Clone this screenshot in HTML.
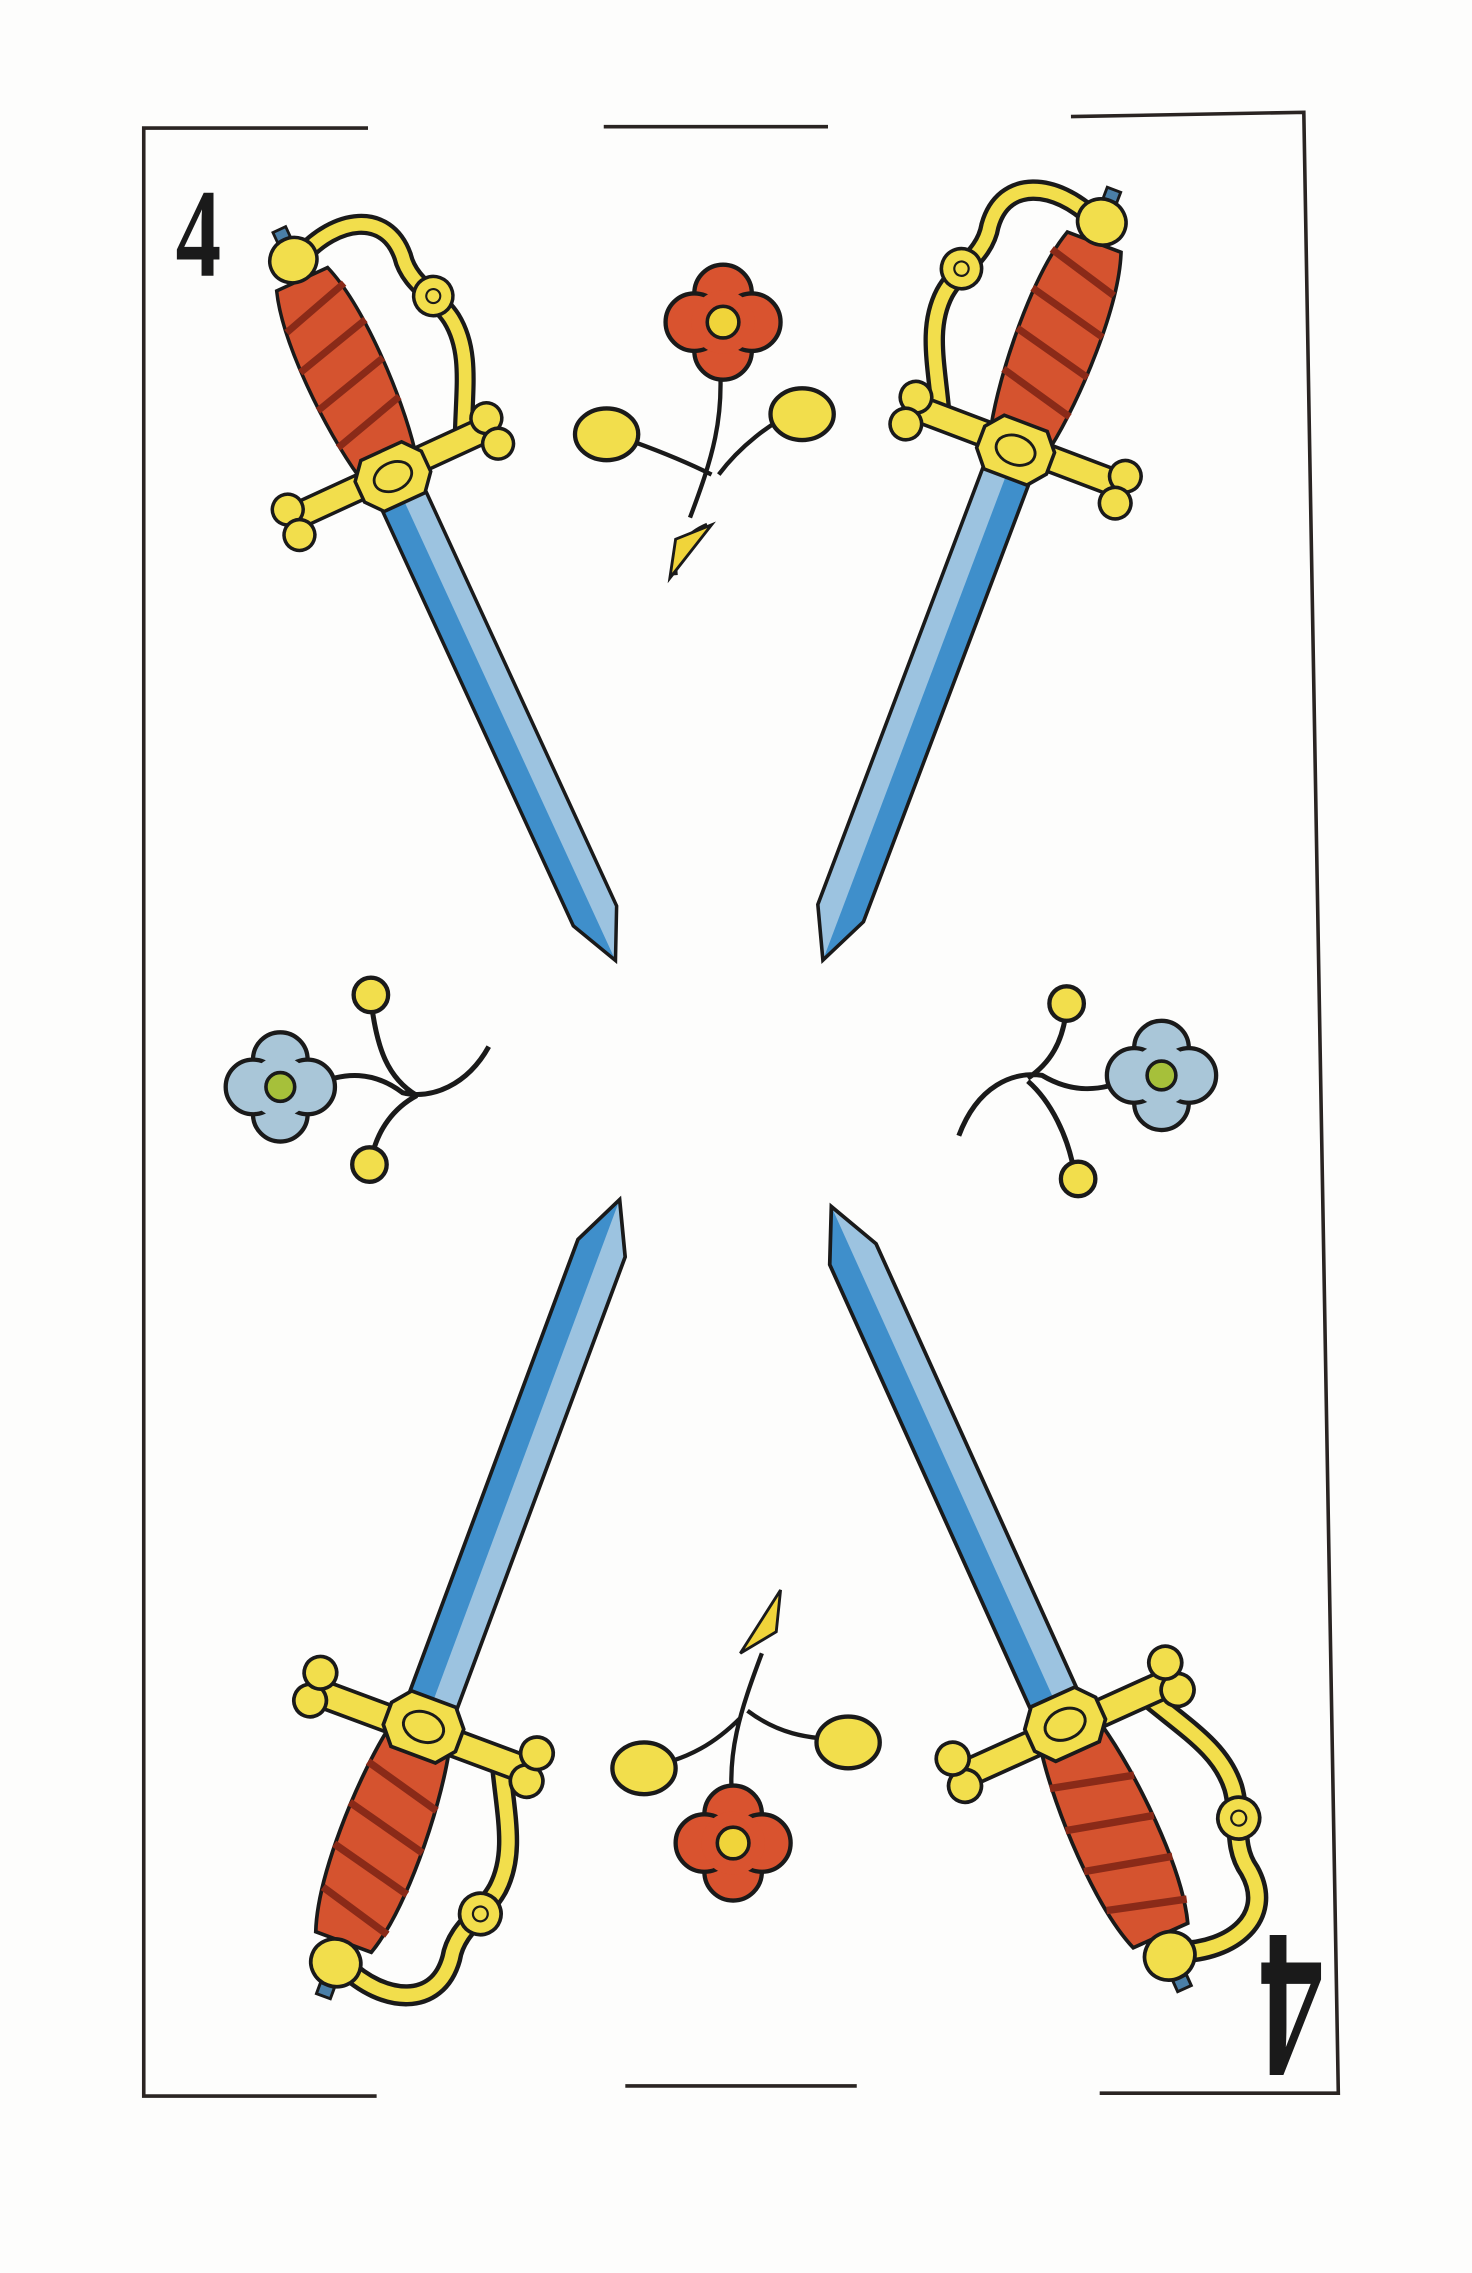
<!DOCTYPE html>
<html><head><meta charset="utf-8"><style>
html,body{margin:0;padding:0;background:#fdfdfc;}
svg{display:block;}
</style></head><body>
<svg width="1472" height="2273" viewBox="0 0 1024 1581" xmlns="http://www.w3.org/2000/svg">
<defs>
<g id="sword">
  <polygon points="-17,195 17,195 17,525 0,560 -17,525" fill="#9cc3e0"/>
  <polygon points="-17,195 0,195 0,560 -17,525" fill="#3f8fcb"/>
  <polygon points="-17,195 17,195 17,525 0,560 -17,525" fill="none" stroke="#1a1a1a" stroke-width="2.5"/>
  <path d="M6,10 C40,-5 75,5 72,40 C68,60 82,75 85,95 C88,120 75,140 60,170" fill="none" stroke="#1a1a1a" stroke-width="15" stroke-linecap="round"/>
  <path d="M6,10 C40,-5 75,5 72,40 C68,60 82,75 85,95 C88,120 75,140 60,170" fill="none" stroke="#f2de4c" stroke-width="9" stroke-linecap="round"/>
  <circle cx="80" cy="75" r="14" fill="#f2de4c" stroke="#1a1a1a" stroke-width="2.5"/>
  <circle cx="80" cy="75" r="5" fill="none" stroke="#1a1a1a" stroke-width="1.5"/>
  <path d="M-20,25 C-32,60 -30,130 -22,170 L22,170 C30,130 32,60 20,25 Z" fill="#d5532f" stroke="#1a1a1a" stroke-width="2.5"/>
  <path d="M-26,55 L26,40 M-29,85 L29,70 M-29,115 L29,100 M-27,145 L28,130" stroke="#8a2a18" stroke-width="5"/>
  <rect x="-5" y="-14" width="10" height="8" fill="#4a7fa8" stroke="#1a1a1a" stroke-width="2"/>
  <ellipse cx="0" cy="10" rx="17" ry="16" fill="#f2de4c" stroke="#1a1a1a" stroke-width="2.5"/>
  <rect x="-75" y="168" width="150" height="18" rx="6" fill="#f2de4c" stroke="#1a1a1a" stroke-width="2.5"/>
  <circle cx="-78" cy="170" r="11" fill="#f2de4c" stroke="#1a1a1a" stroke-width="2.5"/>
  <circle cx="-78" cy="190" r="11" fill="#f2de4c" stroke="#1a1a1a" stroke-width="2.5"/>
  <circle cx="78" cy="170" r="11" fill="#f2de4c" stroke="#1a1a1a" stroke-width="2.5"/>
  <circle cx="78" cy="190" r="11" fill="#f2de4c" stroke="#1a1a1a" stroke-width="2.5"/>
  <polygon points="-16,160 16,160 26,172 26,188 16,200 -16,200 -26,188 -26,172" fill="#f2de4c" stroke="#1a1a1a" stroke-width="2.5"/>
  <ellipse cx="0" cy="180" rx="14" ry="10" fill="none" stroke="#1a1a1a" stroke-width="2"/>
</g>
<g id="sword-m"><use href="#sword" transform="scale(-1,1)"/></g>
<g id="redflower">
  <circle cx="0" cy="-20" r="20" fill="#d9532f" stroke="#1a1a1a" stroke-width="3"/>
  <circle cx="0" cy="20" r="20" fill="#d9532f" stroke="#1a1a1a" stroke-width="3"/>
  <circle cx="-20" cy="0" r="20" fill="#d9532f" stroke="#1a1a1a" stroke-width="3"/>
  <circle cx="20" cy="0" r="20" fill="#d9532f" stroke="#1a1a1a" stroke-width="3"/>
  <circle cx="0" cy="0" r="22" fill="#d9532f"/>
  <circle cx="0" cy="0" r="11" fill="#f0d43a" stroke="#1a1a1a" stroke-width="2.5"/>
</g>
<g id="blueflower">
  <circle cx="0" cy="-19" r="19" fill="#a9c6d8" stroke="#1a1a1a" stroke-width="3"/>
  <circle cx="0" cy="19" r="19" fill="#a9c6d8" stroke="#1a1a1a" stroke-width="3"/>
  <circle cx="-19" cy="0" r="19" fill="#a9c6d8" stroke="#1a1a1a" stroke-width="3"/>
  <circle cx="19" cy="0" r="19" fill="#a9c6d8" stroke="#1a1a1a" stroke-width="3"/>
  <circle cx="0" cy="0" r="21" fill="#a9c6d8"/>
  <circle cx="0" cy="0" r="10" fill="#a6c03a" stroke="#1a1a1a" stroke-width="2.5"/>
</g>
</defs>
<rect width="1024" height="1581" fill="#fdfdfc"/>
<g stroke="#2a2422" stroke-width="2.5" fill="none">
  <path d="M256,89 L100,89 L100,1458 L262,1458"/>
  <path d="M420,88 L576,88"/>
  <path d="M745,81 L907,78 L931,1456 L765,1456"/>
  <path d="M435,1451 L596,1451"/>
</g>
<text x="0" y="0" transform="translate(138,192) scale(0.72,1)" font-family="Liberation Serif, serif" font-size="88" font-weight="bold" text-anchor="middle" fill="#1a1a1a">4</text>
<text x="0" y="0" transform="translate(898,1346) rotate(180) scale(0.6,1)" font-family="Liberation Serif, serif" font-size="148" font-weight="bold" text-anchor="middle" fill="#1a1a1a">4</text>

<g>
  <path d="M500,245 C505,290 495,320 480,360 M470,400 C468,380 480,370 492,365 M420,300 C450,310 475,320 495,330 M555,285 C535,295 515,310 500,330" stroke="#1a1a1a" stroke-width="3" fill="none"/>
  <path d="M466,402 L470,375 L495,365 Z" fill="#f0d43a" stroke="#1a1a1a" stroke-width="2"/>
  <ellipse cx="422" cy="302" rx="22" ry="18" fill="#f2de4c" stroke="#1a1a1a" stroke-width="3"/>
  <ellipse cx="558" cy="288" rx="22" ry="18" fill="#f2de4c" stroke="#1a1a1a" stroke-width="3"/>
  <use href="#redflower" x="503" y="224"/>
</g>
<g>
  <path d="M510,1258 C505,1220 515,1190 530,1150 M445,1230 C480,1225 500,1210 515,1195 M590,1210 C560,1210 540,1205 520,1190" stroke="#1a1a1a" stroke-width="3" fill="none"/>
  <path d="M543,1106 L540,1135 L515,1150 Z" fill="#f0d43a" stroke="#1a1a1a" stroke-width="2"/>
  <ellipse cx="448" cy="1230" rx="22" ry="18" fill="#f2de4c" stroke="#1a1a1a" stroke-width="3"/>
  <ellipse cx="590" cy="1212" rx="22" ry="18" fill="#f2de4c" stroke="#1a1a1a" stroke-width="3"/>
  <use href="#redflower" x="510" y="1282"/>
</g>
<g>
  <path d="M218,755 C240,745 260,745 280,760 C300,765 325,755 340,728 M258,695 C262,730 270,750 290,762 M258,808 C262,785 275,770 290,762" stroke="#1a1a1a" stroke-width="3.5" fill="none"/>
  <use href="#blueflower" x="195" y="756"/>
  <circle cx="258" cy="692" r="12" fill="#f2de4c" stroke="#1a1a1a" stroke-width="3"/>
  <circle cx="257" cy="810" r="12" fill="#f2de4c" stroke="#1a1a1a" stroke-width="3"/>
</g>
<g>
  <path d="M786,750 C765,760 745,760 725,748 C705,745 680,755 667,790 M742,700 C740,725 730,740 715,750 M748,820 C744,790 730,765 715,752" stroke="#1a1a1a" stroke-width="3.5" fill="none"/>
  <use href="#blueflower" x="808" y="748"/>
  <circle cx="742" cy="698" r="12" fill="#f2de4c" stroke="#1a1a1a" stroke-width="3"/>
  <circle cx="750" cy="820" r="12" fill="#f2de4c" stroke="#1a1a1a" stroke-width="3"/>
</g>

<g transform="translate(200,172) rotate(-24.7) scale(0.975)"><use href="#sword"/></g>
<g transform="translate(770,145) rotate(20.7) scale(0.998)"><use href="#sword-m"/></g>
<g transform="translate(230,1375) rotate(200.4) scale(1.03)"><use href="#sword-m"/></g>
<g transform="translate(818,1370) rotate(155.7) scale(1.04)"><use href="#sword-m"/></g>
</svg>
</body></html>
